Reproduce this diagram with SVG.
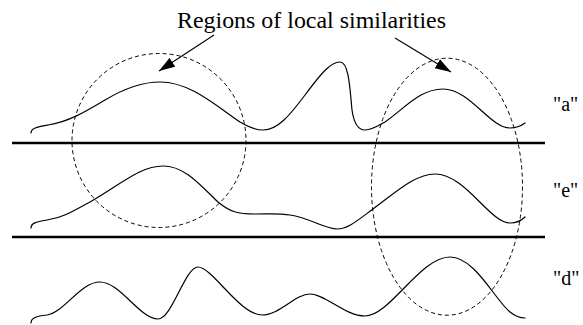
<svg xmlns="http://www.w3.org/2000/svg" width="583" height="325" viewBox="0 0 583 325">
  <style>
    .txt { font-family: 'Liberation Serif', 'DejaVu Serif', 'Times New Roman', serif; fill: #000; }
    .sig { fill: none; stroke: #000; stroke-width: 1.2; stroke-linecap: round; stroke-linejoin: round; }
    .sep { stroke: #000; stroke-width: 2.6; }
    .region { fill: none; stroke: #000; stroke-width: 1; stroke-dasharray: 4 3; }
    .arrow { stroke: #000; stroke-width: 1.1; fill: none; marker-end: url(#head); }
  </style>
  <defs>
    <marker id="head" markerUnits="userSpaceOnUse" markerWidth="18" markerHeight="12" viewBox="0 0 18 12" refX="16" refY="6" orient="auto">
      <path d="M0,0.8 L16,6 L0,11.2 Z" fill="#000"/>
    </marker>
  </defs>
  <rect width="583" height="325" fill="#fff"/>

  <g id="separators">
    <line class="sep" x1="12" y1="143" x2="545" y2="143"/>
    <line class="sep" x1="12" y1="237" x2="545" y2="237"/>
  </g>

  <g id="signal-a">
    <path class="sig" d="M31,133 C31,128 37,127 48,125 C68,122 85,112 105,100 C125,88 142,82 160,82 C190,82 215,105 240,122 C250,128 256,130 263,130 C278,130 290,115 305,95 C320,75 330,62 340,62 C349,62 350,90 352,110 C354,124 358,130 365,130 C372,130 378,126 385,122 C405,108 420,89 443,89 C470,89 490,128 510,128 C516,128 521,126 525,123"/>
    <text class="txt" x="553" y="111" font-size="20" font-family="'Liberation Serif', 'DejaVu Serif', serif">"a"</text>
  </g>

  <g id="signal-e">
    <path class="sig" d="M31,228 C31,223 36,222 47,220 C62,218 72,212 90,202 C120,185 140,166 163,166 C185,166 200,185 218,202 C230,212 238,214 255,214 C270,214 278,213 290,215 C310,218 325,229 337,229 C348,229 358,220 373,209 C395,193 415,174 435,174 C465,174 490,223 510,223 C516,223 521,221 525,217"/>
    <text class="txt" x="553" y="197" font-size="20" font-family="'Liberation Serif', 'DejaVu Serif', serif">"e"</text>
  </g>

  <g id="signal-d">
    <path class="sig" d="M31,323 C31,318 36,316 47,315 C65,312 80,282 100,282 C120,282 140,319 158,319 C172,319 185,267 198,267 C212,267 240,315 262,315 C280,315 295,294 310,294 C325,294 345,316 365,316 C390,316 420,257 450,257 C475,257 495,300 510,312 C515,316 520,318 525,318"/>
    <text class="txt" x="553" y="285" font-size="20" font-family="'Liberation Serif', 'DejaVu Serif', serif">"d"</text>
  </g>

  <g id="region-1">
    <circle class="region" cx="159" cy="140.5" r="87"/>
  </g>
  <g id="region-2">
    <ellipse class="region" cx="447" cy="186.7" rx="75.5" ry="128.5"/>
  </g>

  <g id="title">
    <text class="txt" x="311.5" y="28" font-size="23" font-family="'Liberation Serif', 'DejaVu Serif', serif" text-anchor="middle" textLength="269" lengthAdjust="spacingAndGlyphs">Regions of local similarities</text>
  </g>

  <g id="connectors">
    <line class="arrow" x1="214" y1="35" x2="159" y2="71"/>
    <line class="arrow" x1="395" y1="38" x2="451" y2="72"/>
  </g>
</svg>
